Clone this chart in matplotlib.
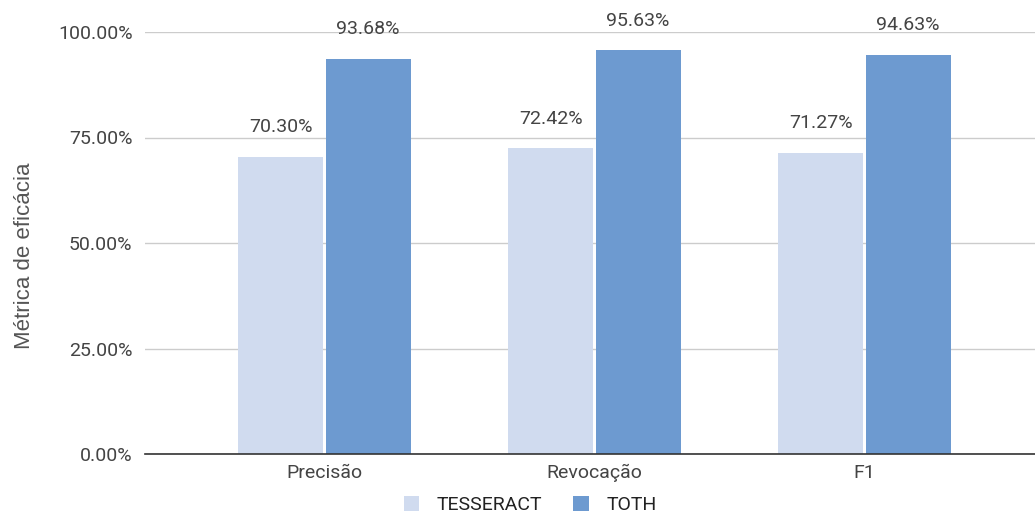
import matplotlib.pyplot as plt
import numpy as np

categories = ["Precisão", "Revocação", "F1"]
tesseract = [0.7030, 0.7242, 0.7127]
toth = [0.9368, 0.9563, 0.9463]
series_names = ["TESSERACT", "TOTH"]
y_ticks = [0.0, 0.25, 0.50, 0.75, 1.0]

C_TESS = "#d0dbef"
C_TOTH = "#6d9ad0"

plt.rcParams["font.family"] = ["Roboto", "DejaVu Sans"]

fig = plt.figure(figsize=(10.35, 5.17), dpi=100)
ax = fig.add_axes([145 / 1035, 63 / 517, 890 / 1035, 422 / 517])

x = np.arange(len(categories))
w = 0.315
b1 = ax.bar(x - 0.161, tesseract, w, color=C_TESS, label=series_names[0], zorder=3)
b2 = ax.bar(x + 0.163, toth, w, color=C_TOTH, label=series_names[1], zorder=3)

for bars, vals in ((b1, tesseract), (b2, toth)):
    for rect, v in zip(bars, vals):
        ax.annotate(f"{v * 100:.2f}%", (rect.get_x() + rect.get_width() / 2, v),
                    xytext=(0, 21.5), textcoords="offset points", ha="center", va="center",
                    fontsize=14, color="#444444", annotation_clip=False)

ax.set_xlim(-0.663, 2.633)
ax.set_ylim(0, 1)
ax.set_yticks(y_ticks)
ax.set_yticklabels([f"{t * 100:.2f}%" for t in y_ticks])
ax.set_xticks(x)
ax.set_xticklabels(categories)
ax.tick_params(axis="both", length=0, labelsize=14, colors="#444444")
ax.tick_params(axis="y", pad=9)
ax.tick_params(axis="x", pad=7)
ax.grid(True, axis="y", color="#cccccc", linewidth=1, zorder=0)
for s in ("top", "right", "left"):
    ax.spines[s].set_visible(False)
ax.spines["bottom"].set_color("#333333")
ax.spines["bottom"].set_linewidth(1.2)
ax.spines["bottom"].set_zorder(4)

ax.set_ylabel("Métrica de eficácia", fontsize=16, color="#555555",
              family=["Liberation Sans", "DejaVu Sans"])
ax.yaxis.set_label_coords(-0.124, 0.469)

fig.legend(handles=[b1, b2], labels=series_names, loc="center",
           bbox_to_anchor=(530 / 1035, 1 - 505 / 517), ncol=2, frameon=False,
           fontsize=14, handlelength=0.8, handleheight=0.8, columnspacing=1.6,
           handletextpad=0.9, labelcolor="#222222")

fig.savefig("out.png", dpi=100)
